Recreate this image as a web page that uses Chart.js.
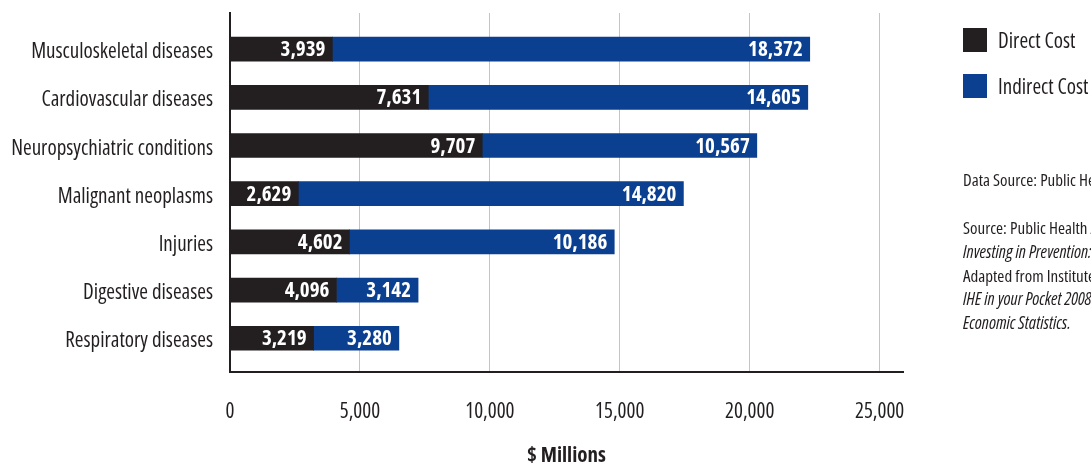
<!DOCTYPE html>
<html>
<head>
<meta charset="utf-8">
<script src="https://cdn.jsdelivr.net/npm/chart.js@4"></script>
<style>
  body { margin: 0; background: #fff; overflow: hidden; }
  #wrap { width: 1091px; height: 463px; position: relative; }
</style>
</head>
<body>
<div id="wrap"><canvas id="costChart"></canvas></div>
<script>
var categories = ['Musculoskeletal diseases', 'Cardiovascular diseases', 'Neuropsychiatric conditions',
    'Malignant neoplasms', 'Injuries', 'Digestive diseases', 'Respiratory diseases'];
var directCost = [3939, 7631, 9707, 2629, 4602, 4096, 3219];
var indirectCost = [18372, 14605, 10567, 14820, 10186, 3142, 3280];
var xTicks = [0, 5000, 10000, 15000, 20000, 25000];

// Open Sans has a condensed width; the weight slot carries the stretch keyword
var FONT = "'Open Sans', sans-serif";
var INK = '#231f20';

Chart.defaults.font.family = FONT;
Chart.defaults.font.weight = 'condensed';
Chart.defaults.color = INK;

function points(values) {
    return values.map(function (v, i) { return { x: v, y: i }; });
}

// white figures at the right end of each segment
var valueLabels = {
    id: 'valueLabels',
    afterDatasetsDraw: function (chart) {
        var ctx = chart.ctx;
        ctx.save();
        ctx.fillStyle = '#fff';
        ctx.font = 'bold condensed 21px ' + FONT;
        ctx.textAlign = 'right';
        ctx.textBaseline = 'middle';
        chart.data.datasets.forEach(function (ds, d) {
            chart.getDatasetMeta(d).data.forEach(function (bar, i) {
                ctx.fillText(ds.data[i].x.toLocaleString('en-US'), bar.x - 7, bar.y + 1);
            });
        });
        ctx.restore();
    }
};

// legend and source notes in the right margin
var sideNotes = {
    id: 'sideNotes',
    afterDraw: function (chart) {
        var ctx = chart.ctx;
        ctx.save();
        ctx.textBaseline = 'middle';
        ctx.textAlign = 'left';
        chart.data.datasets.forEach(function (ds, d) {
            var y = 28 + d * 46;
            ctx.fillStyle = ds.backgroundColor;
            ctx.fillRect(963, y, 24, 24);
            ctx.fillStyle = INK;
            ctx.font = 'condensed 21px ' + FONT;
            ctx.fillText(ds.label, 998, y + 14);
        });
        var notes = [
            ['Data Source: Public Health Agency of Canada', false, 181],
            ['Source: Public Health Agency of Canada (2009).', false, 229],
            ['Investing in Prevention: The Economic Perspective.', true, 253],
            ['Adapted from Institute of Health Economics (2008).', false, 277],
            ['IHE in your Pocket 2008: A Handbook of Health', true, 300],
            ['Economic Statistics.', true, 324]
        ];
        notes.forEach(function (n) {
            ctx.font = n[1] ? 'italic condensed 17.5px ' + FONT : 'condensed 17px ' + FONT;
            ctx.fillText(n[0], 963, n[2]);
        });
        ctx.restore();
    }
};

new Chart(document.getElementById('costChart'), {
    type: 'bar',
    data: {
        datasets: [{
            label: 'Direct Cost',
            data: points(directCost),
            backgroundColor: '#231f20',
            barThickness: 24
        }, {
            label: 'Indirect Cost',
            data: points(indirectCost),
            backgroundColor: '#0b3f8f',
            barThickness: 24
        }]
    },
    options: {
        indexAxis: 'y',
        responsive: true,
        maintainAspectRatio: false,
        animation: false,
        layout: { padding: { top: 13, right: 188, bottom: 0, left: 0 } },
        plugins: {
            legend: { display: false },
            tooltip: { enabled: false }
        },
        scales: {
            x: {
                type: 'linear',
                stacked: true,
                min: 0,
                max: 25900,
                afterBuildTicks: function (scale) {
                    scale.ticks = xTicks.map(function (v) { return { value: v }; });
                },
                afterFit: function (scale) {
                    scale.height = 91;
                    scale.paddingLeft = 0;
                    scale.paddingRight = 0;
                },
                ticks: {
                    autoSkip: false,
                    maxRotation: 0,
                    padding: 27,
                    font: { size: 21 },
                    callback: function (v) { return v.toLocaleString('en-US'); }
                },
                grid: { color: '#c4c4c4', lineWidth: 1, drawTicks: false },
                border: { color: INK, width: 2 },
                title: {
                    display: true,
                    text: '$ Millions',
                    font: { size: 21, weight: 'bold condensed', lineHeight: 1 },
                    padding: { top: 0, bottom: -4 }
                }
            },
            y: {
                type: 'linear',
                stacked: true,
                reverse: true,
                offset: false,
                min: -0.75,
                max: 6.7,
                afterBuildTicks: function (scale) {
                    scale.ticks = categories.map(function (c, i) { return { value: i }; });
                },
                afterFit: function (scale) {
                    scale.width = 230;
                    scale.paddingTop = 0;
                    scale.paddingBottom = 0;
                },
                ticks: {
                    autoSkip: false,
                    padding: 17,
                    labelOffset: 3,
                    font: { size: 21 },
                    callback: function (v) { return categories[v]; }
                },
                grid: { display: false, drawTicks: false, offset: false },
                border: { color: INK, width: 2 }
            }
        }
    },
    plugins: [valueLabels, sideNotes]
});
</script>
</body>
</html>
